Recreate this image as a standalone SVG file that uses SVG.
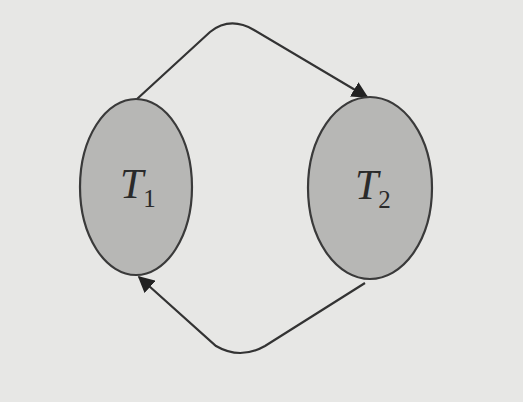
<svg xmlns="http://www.w3.org/2000/svg" width="523" height="402" viewBox="0 0 523 402">
<style>
.node{fill:#b7b7b5;stroke:#3a3a3a;stroke-width:2.2}
.edge{fill:none;stroke:#333;stroke-width:2.2}
.lbl{font-family:"Liberation Serif",serif;font-style:italic;fill:#2a2a2a}
.sub{font-style:normal}
</style>
<defs>
<marker id="arr" viewBox="0 0 10 10" refX="9" refY="5" markerWidth="7.5" markerHeight="7.5" markerUnits="strokeWidth" orient="auto">
<path d="M0,0 L10,5 L0,10 z" fill="#222"/>
</marker>
</defs>
<rect width="523" height="402" fill="#e7e7e5"/>
<g id="connectors">
<path class="edge" d="M137,99 L210,32 Q230,16 254,30 L367,97" marker-end="url(#arr)"/>
<path class="edge" d="M365,283 L265,346 Q240,360 216,346 L139,277" marker-end="url(#arr)"/>
</g>
<g id="T1">
<ellipse class="node" cx="136" cy="187" rx="56" ry="88"/>
<text class="lbl" x="120" y="198" font-size="42">T<tspan class="sub" font-size="25" dy="9">1</tspan></text>
</g>
<g id="T2">
<ellipse class="node" cx="370" cy="188" rx="62" ry="91"/>
<text class="lbl" x="355" y="199" font-size="42">T<tspan class="sub" font-size="25" dy="9">2</tspan></text>
</g>
</svg>
